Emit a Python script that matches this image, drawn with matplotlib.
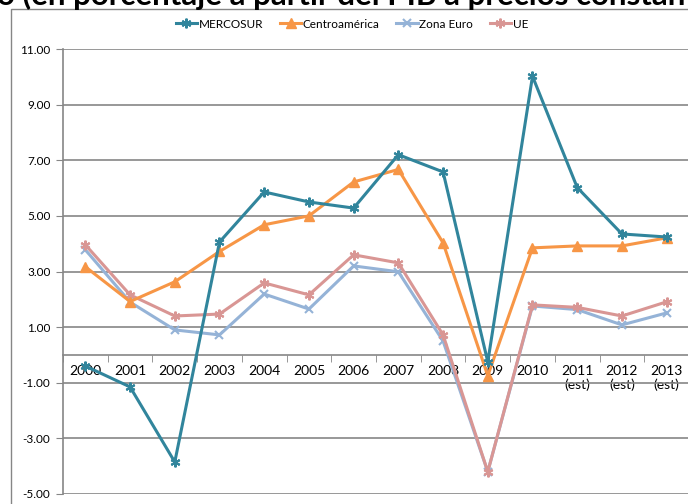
import matplotlib.pyplot as plt
from matplotlib.patches import Rectangle

plt.rcParams['font.family'] = ['Lato', 'DejaVu Sans']

# Data
years = ['2000', '2001', '2002', '2003', '2004', '2005', '2006', '2007',
         '2008', '2009', '2010', '2011\n(est)', '2012\n(est)', '2013\n(est)']
mercosur = [-0.40, -1.15, -3.85, 4.06, 5.86, 5.50, 5.28, 7.20,
            6.58, -0.25, 10.02, 6.02, 4.35, 4.24]
centroamerica = [3.17, 1.92, 2.63, 3.72, 4.68, 5.00, 6.22, 6.67,
                 4.03, -0.75, 3.85, 3.92, 3.92, 4.21]
zona_euro = [3.78, 1.90, 0.90, 0.72, 2.19, 1.65, 3.20, 2.99,
             0.50, -4.20, 1.76, 1.63, 1.08, 1.51]
ue = [3.96, 2.16, 1.40, 1.47, 2.59, 2.16, 3.60, 3.31,
      0.72, -4.20, 1.80, 1.71, 1.40, 1.91]
yticks = [-5, -3, -1, 1, 3, 5, 7, 9, 11]

grey = '#868686'
fig = plt.figure(figsize=(6.88, 5.04), dpi=100)
ax = fig.add_axes([63 / 688, 10 / 504, 626 / 688, 445 / 504])

x = list(range(len(years)))
star = (6, 2, 0)
ax.plot(x, mercosur, color='#31859C', lw=2.2, marker=star, ms=7, mew=1.5, label='MERCOSUR', zorder=5)
ax.plot(x, centroamerica, color='#F79646', lw=2.2, marker='^', ms=6.5, label='Centroamérica', zorder=4)
ax.plot(x, zona_euro, color='#95B3D7', lw=2.2, marker='x', ms=6, mew=1.5, label='Zona Euro', zorder=3)
ax.plot(x, ue, color='#D99694', lw=2.2, marker=star, ms=7, mew=1.5, label='UE', zorder=3)

ax.set_xlim(-0.5, len(years) - 0.5)
ax.set_ylim(-5, 11)
ax.set_yticks(yticks)
ax.set_yticklabels([f'{v:.2f}' for v in yticks], fontsize=8.5)
ax.yaxis.grid(True, color=grey, lw=1.2)
ax.set_axisbelow(True)

ax.set_xticks(x)
ax.set_xticklabels(years, fontsize=8.5, linespacing=1.5, va='top')
ax.set_xticks([i - 0.5 for i in range(len(years) + 1)], minor=True)
ax.tick_params(axis='x', which='major', length=0, pad=7)
ax.tick_params(axis='x', which='minor', length=5, color=grey, direction='out')
ax.tick_params(axis='y', length=5, color=grey, pad=4)

for s in ['top', 'right']:
    ax.spines[s].set_visible(False)
ax.spines['bottom'].set_position(('data', 0))
ax.spines['bottom'].set_color(grey)
ax.spines['bottom'].set_linewidth(1.2)
ax.spines['left'].set_color(grey)
ax.spines['left'].set_linewidth(1.2)

fig.legend(loc='center', bbox_to_anchor=(352 / 688, 1 - 24 / 504), ncol=4, frameon=False,
           fontsize=8.5, handlelength=1.8, handletextpad=0.15, columnspacing=1.4)

# chart border, cut off on the right and bottom like the source
fig.patches.append(Rectangle((11 / 688, -0.1), 1.2, 1 - 9 / 504 + 0.1, transform=fig.transFigure,
                             fill=False, edgecolor=grey, lw=1))

# title, only its lower edge is inside the crop
fig.text(-3 / 688, 1 - 5 / 504, 'o (en porcentaje a partir del PIB a precios constantes)',
         fontsize=22.5, fontweight='bold', va='baseline', ha='left')

fig.savefig('out.png', dpi=100)
